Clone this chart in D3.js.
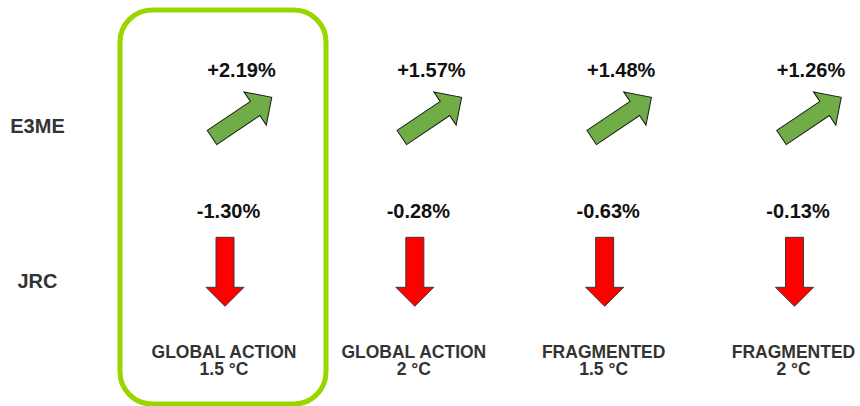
<!DOCTYPE html>
<html>
<head>
<meta charset="utf-8">
<script src="https://cdn.jsdelivr.net/npm/d3@7"></script>
<style>
  html, body { margin: 0; padding: 0; background: #fff; }
  svg { display: block; font-family: "Liberation Sans", Arial, sans-serif; font-weight: bold; }
</style>
</head>
<body>
<div id="chart"></div>
<script>
const scenarios = ["GLOBAL ACTION|1.5 °C", "GLOBAL ACTION|2 °C", "FRAGMENTED|1.5 °C", "FRAGMENTED|2 °C"]
const models = ["E3ME", "JRC"]
const e3meValues = [2.19, 1.57, 1.48, 1.26]
const jrcValues = [-1.30, -0.28, -0.63, -0.13]
const highlighted = "GLOBAL ACTION|1.5 °C"

const width = 860, height = 406

const svg = d3.select("#chart")
  .append("svg")
    .attr("width", width)
    .attr("height", height)

const x = d3.scalePoint()
  .domain(scenarios)
  .range([225, 794.5])

const y = d3.scalePoint()
  .domain(models)
  .range([126, 281])

// plain hyphen for negatives, like the source
const fmt = v => (v > 0 ? "+" : "-") + Math.abs(v).toFixed(2) + "%"

// highlight frame round the first scenario
svg.append("rect")
  .attr("x", x(highlighted) - 105)
  .attr("y", 10)
  .attr("width", 206)
  .attr("height", 394)
  .attr("rx", 32)
  .attr("fill", "none")
  .attr("stroke", "#99d600")
  .attr("stroke-width", 5)

// arrow outline pointing along +x, tail at 0
function arrowPath(len, shaft, head, headLen) {
  const p = d3.path()
  p.moveTo(0, -shaft / 2)
  p.lineTo(len - headLen, -shaft / 2)
  p.lineTo(len - headLen, -head / 2)
  p.lineTo(len, 0)
  p.lineTo(len - headLen, head / 2)
  p.lineTo(len - headLen, shaft / 2)
  p.lineTo(0, shaft / 2)
  p.closePath()
  return p.toString()
}

const cells = []
scenarios.forEach((s, i) => {
  cells.push({scenario: s, model: "E3ME", value: e3meValues[i]})
  cells.push({scenario: s, model: "JRC", value: jrcValues[i]})
})

const cell = svg.selectAll(".cell")
  .data(cells)
  .enter()
  .append("g")
    .attr("class", "cell")
    .attr("transform", d => `translate(${x(d.scenario)},${y(d.model)})`)

cell.append("path")
  .attr("d", d => d.value > 0 ? arrowPath(72, 17, 40, 20) : arrowPath(69, 18, 38, 19))
  .attr("transform", d => d.value > 0
    ? "translate(-13,11.5) rotate(-33.9)"
    : "translate(0,-43.7) rotate(90)")
  .attr("fill", d => d.value > 0 ? "#70ad47" : "#ff0000")
  .attr("stroke", d => d.value > 0 ? "#1a1a1a" : "#3a3a3a")
  .attr("stroke-width", 1)
  .attr("stroke-linejoin", "miter")

cell.append("text")
  .attr("x", d => d.value > 0 ? 16.5 : 3.5)
  .attr("y", d => d.value > 0 ? -49.3 : -63)
  .attr("text-anchor", "middle")
  .attr("font-size", 20)
  .attr("fill", "#111")
  .text(d => fmt(d.value))

// row labels
svg.selectAll(".row-label")
  .data(models)
  .enter()
  .append("text")
    .attr("class", "row-label")
    .attr("x", 37.5)
    .attr("y", d => y(d) + 7.3)
    .attr("text-anchor", "middle")
    .attr("font-size", 20)
    .attr("fill", "#333")
    .text(d => d)

// scenario labels
const lab = svg.selectAll(".col-label")
  .data(scenarios)
  .enter()
  .append("text")
    .attr("class", "col-label")
    .attr("text-anchor", "middle")
    .attr("font-size", 17.5)
    .attr("fill", "#333")

lab.selectAll("tspan")
  .data(d => d.split("|").map(t => ({t, d})))
  .enter()
  .append("tspan")
    .attr("x", o => x(o.d) - 1)
    .attr("y", (o, i) => 358 + i * 17)
    .text(o => o.t)
</script>
</body>
</html>
